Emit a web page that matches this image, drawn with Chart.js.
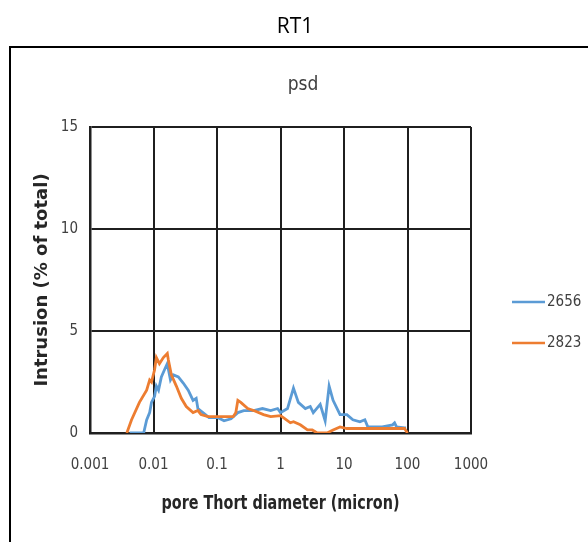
<!DOCTYPE html>
<html>
<head>
<meta charset="utf-8">
<script src="https://cdn.jsdelivr.net/npm/chart.js@4.4.1/dist/chart.umd.min.js"></script>
<style>
  html, body { margin: 0; padding: 0; background: #ffffff; }
  canvas { display: block; }
</style>
</head>
<body>
<canvas id="psdChart" width="588" height="542"></canvas>
<script>
// Pore size distribution, sample 2656 (pore throat diameter in micron, intrusion in % of total)
const diam2656 = [0.0042, 0.0070, 0.0078, 0.0087, 0.0093, 0.0104, 0.0111, 0.0120, 0.0133, 0.0149, 0.0165,
  0.0185, 0.0205, 0.0246, 0.0294, 0.0352, 0.042, 0.047, 0.050, 0.060, 0.075, 0.104, 0.129, 0.166,
  0.213, 0.264, 0.378, 0.52, 0.70, 0.90, 1.0, 1.29, 1.60, 1.91, 2.46, 2.94, 3.28, 4.22, 5.05, 5.83,
  6.73, 8.66, 11.1, 13.8, 17.8, 21.3, 23.7, 40, 58.3, 62.6, 67.3, 89.8, 95];
const intr2656 = [0, 0, 0.64, 1.0, 1.5, 1.8, 2.3, 2.1, 2.75, 3.1, 3.4,
  2.6, 2.85, 2.75, 2.45, 2.1, 1.6, 1.7, 1.2, 1.0, 0.75, 0.75, 0.6, 0.7,
  1.0, 1.1, 1.1, 1.2, 1.1, 1.2, 1.0, 1.2, 2.2, 1.5, 1.2, 1.3, 1.0, 1.4, 0.6, 2.3,
  1.6, 0.9, 0.9, 0.65, 0.55, 0.65, 0.3, 0.3, 0.4, 0.5, 0.3, 0.25, 0.25];

// Pore size distribution, sample 2823
const diam2823 = [0.0038, 0.0045, 0.0060, 0.0078, 0.0087, 0.0093, 0.0104, 0.0111, 0.0124, 0.0143, 0.0165,
  0.0171, 0.0191, 0.0229, 0.0274, 0.0328, 0.042, 0.050, 0.056, 0.072, 0.115, 0.180, 0.198, 0.213,
  0.237, 0.305, 0.378, 0.54, 0.70, 1.0, 1.11, 1.43, 1.60, 2.05, 2.66, 3.16, 3.79, 5.42, 6.73,
  8.66, 11.1, 30, 60, 89.8, 100];
const intr2823 = [0, 0.64, 1.5, 2.1, 2.6, 2.5, 3.1, 3.7, 3.4, 3.7, 3.9,
  3.6, 2.85, 2.3, 1.7, 1.3, 1.0, 1.1, 0.9, 0.8, 0.8, 0.8, 1.0, 1.6,
  1.5, 1.2, 1.1, 0.9, 0.8, 0.85, 0.75, 0.5, 0.55, 0.4, 0.15, 0.15, 0, 0, 0.15,
  0.3, 0.22, 0.22, 0.22, 0.22, 0];

const seriesNames = ['2656', '2823'];
const seriesColors = ['#5B9BD5', '#ED7D31'];

const xTickValues = [0.001, 0.01, 0.1, 1, 10, 100, 1000];
const xTickLabels = ['0.001', '0.01', '0.1', '1', '10', '100', '1000'];
const yTickValues = [0, 5, 10, 15];

const chartTitle = 'RT1';
const plotTitle = 'psd';
const xAxisTitle = 'pore Thort diameter (micron)';
const yAxisTitle = 'Intrusion (% of total)';

const NARROW = "'Liberation Sans Narrow', 'DejaVu Sans Condensed', 'Roboto Condensed', sans-serif";
const WIDE = "'Open Sans', 'Noto Sans', sans-serif";
const BOLDWIDE = "'DejaVu Sans', 'Noto Sans', sans-serif";
const TEXT = '#404040';
const GRID = '#1f1f1f';

const toPoints = (xs, ys) => xs.map((x, i) => ({ x: x, y: ys[i] }));

// Outer frame, headings, x-axis title and the right-hand legend
const decorations = {
  id: 'decorations',
  beforeDraw(chart) {
    const ctx = chart.ctx;
    ctx.save();
    ctx.fillStyle = '#ffffff';
    ctx.fillRect(0, 0, chart.width, chart.height);
    ctx.strokeStyle = '#000000';
    ctx.lineWidth = 2;
    ctx.strokeRect(10, 47, chart.width + 20, chart.height + 20);
    ctx.restore();
  },
  afterDraw(chart) {
    const ctx = chart.ctx;
    const area = chart.chartArea;
    ctx.save();
    ctx.textBaseline = 'middle';
    ctx.textAlign = 'center';
    ctx.fillStyle = '#000000';
    ctx.font = '21px ' + WIDE;
    ctx.fillText(chartTitle, 295, 27);
    ctx.fillStyle = TEXT;
    ctx.font = '19px ' + NARROW;
    ctx.fillText(plotTitle, 303, 85);

    // x-axis title: tall, narrow bold lettering
    ctx.fillStyle = '#262626';
    ctx.font = 'bold 19px ' + NARROW;
    ctx.fillText(xAxisTitle, (area.left + area.right) / 2, 504, 238);

    ctx.textAlign = 'left';
    ctx.font = '15px ' + NARROW;
    const legendY = [302, 343];
    chart.data.datasets.forEach((ds, i) => {
      ctx.strokeStyle = ds.borderColor;
      ctx.lineWidth = 2.5;
      ctx.beginPath();
      ctx.moveTo(512, legendY[i]);
      ctx.lineTo(545, legendY[i]);
      ctx.stroke();
      ctx.fillStyle = TEXT;
      ctx.fillText(ds.label, 547, legendY[i]);
    });
    ctx.restore();
  }
};

new Chart(document.getElementById('psdChart'), {
  type: 'line',
  data: {
    datasets: [
      {
        label: seriesNames[0],
        data: toPoints(diam2656, intr2656),
        borderColor: seriesColors[0],
        backgroundColor: seriesColors[0],
        borderWidth: 2.8,
        pointRadius: 0,
        tension: 0,
        fill: false,
        order: 1
      },
      {
        label: seriesNames[1],
        data: toPoints(diam2823, intr2823),
        borderColor: seriesColors[1],
        backgroundColor: seriesColors[1],
        borderWidth: 2.8,
        pointRadius: 0,
        tension: 0,
        fill: false,
        order: 0
      }
    ]
  },
  options: {
    responsive: false,
    animation: false,
    layout: { padding: { top: 127, right: 117, bottom: 0, left: 0 } },
    plugins: {
      legend: { display: false },
      title: { display: false },
      tooltip: { enabled: false }
    },
    scales: {
      x: {
        type: 'logarithmic',
        min: 0.001,
        max: 1000,
        afterFit: s => { s.height = 109; },
        afterBuildTicks: s => { s.ticks = xTickValues.map(v => ({ value: v })); },
        grid: { color: GRID, lineWidth: 2, drawTicks: false },
        border: { display: true, color: GRID, width: 2.5 },
        ticks: {
          autoSkip: false,
          maxRotation: 0,
          padding: 23,
          color: TEXT,
          font: { family: NARROW, size: 15 },
          callback: (v) => {
            const k = xTickValues.findIndex(t => Math.abs(Math.log10(t) - Math.log10(v)) < 1e-6);
            return k >= 0 ? xTickLabels[k] : '';
          }
        },
        title: { display: false }
      },
      y: {
        type: 'linear',
        min: 0,
        max: 15,
        afterFit: s => { s.width = 90; },
        afterBuildTicks: s => { s.ticks = yTickValues.map(v => ({ value: v })); },
        grid: { color: GRID, lineWidth: 2, drawTicks: false },
        border: { display: true, color: GRID, width: 2.5 },
        ticks: {
          padding: 12,
          color: TEXT,
          font: { family: NARROW, size: 15 }
        },
        title: {
          display: true,
          text: yAxisTitle,
          color: '#262626',
          font: { family: BOLDWIDE, size: 18, weight: 'bold' },
          padding: { top: 32, bottom: 0 }
        }
      }
    }
  },
  plugins: [decorations]
});
</script>
</body>
</html>
